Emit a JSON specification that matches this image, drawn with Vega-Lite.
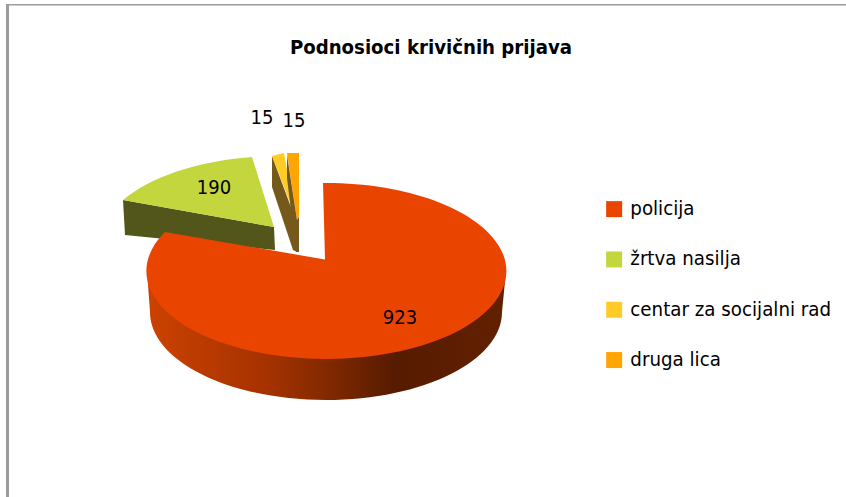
{
"$schema":"https://vega.github.io/schema/vega-lite/v6.json",
"width":846,"height":497,"padding":0,"autosize":"none",
"background":"#ffffff",
"view":{"stroke":null},
"title":{"text":"Podnosioci krivičnih prijava","font":"DejaVu Sans Condensed, Lato","fontSize":20.2,"fontWeight":"bold","color":"#000000","anchor":"middle","frame":"group","dx":8,"dy":58,"offset":0},
"data":{"values":[
{"category":"policija","slice":"a","value":923},
{"category":"žrtva nasilja","slice":"b","value":190},
{"category":"centar za socijalni rad","slice":"c","value":15},
{"category":"druga lica","slice":"d","value":15}
]},
"layer":[
{"transform":[{"filter":"datum.category==='policija'"}],
 "mark":{"type":"point","filled":true,"opacity":1,"size":4,"fill":"#9c9c9c","strokeWidth":0,"shape":"M-417,-244.5 L423,-244.5 L423,-243 L-414,-243 L-414,248.5 L-417,248.5 Z"},"encoding":{}},
{"transform":[{"filter":"datum.category==='policija'"}],
 "mark":{"type":"point","filled":true,"opacity":1,"size":4,"strokeWidth":0,"fill":{"gradient":"linear","x1":0,"y1":0,"x2":1,"y2":0,"stops":[{"offset":0,"color":"#cc4200"},{"offset":0.33,"color":"#a63200"},{"offset":0.52,"color":"#7e2800"},{"offset":0.69,"color":"#561b00"},{"offset":1,"color":"#632000"}]},"shape":"M-276,22.5 L-273,63.5 A176,88 0 0 0 79,63.5 L83,22.5 Z"},"encoding":{}},
{"transform":[{"filter":"datum.category==='žrtva nasilja'"}],
 "mark":{"type":"point","filled":true,"opacity":1,"size":4,"strokeWidth":0,"fill":"#52561a","shape":"M-300,-48.5 L-298,-13.5 L-148,1.5 L-149,-21.5 Z"},"encoding":{}},
{"transform":[{"filter":"datum.category==='centar za socijalni rad'"}],
 "mark":{"type":"point","filled":true,"opacity":1,"size":4,"strokeWidth":0,"fill":"#75591a","shape":"M-151,-92.5 L-151,-61.5 L-130,1.5 L-126,3.5 L-128,-30.5 Z"},"encoding":{}},
{"mark":{"type":"point","filled":true,"opacity":1,"size":4,"strokeWidth":0},
 "encoding":{
  "color":{"field":"category","type":"nominal","sort":null,
   "scale":{"domain":["policija","žrtva nasilja","centar za socijalni rad","druga lica"],"range":["#ea4500","#c3d63e","#ffcb27","#ffa500"]},
   "legend":{"title":null,"orient":"none","legendX":604,"legendY":199,"symbolType":"square","symbolSize":256,"symbolStrokeWidth":0,"symbolOffset":0,"labelFont":"DejaVu Sans Condensed, Lato","labelFontSize":20.3,"labelColor":"#000000","labelOffset":6,"rowPadding":29.3,"padding":0,"labelLimit":300}},
  "shape":{"field":"slice","type":"nominal","sort":null,"legend":null,
   "scale":{"domain":["a","b","c","d"],"range":[
    "M-100,-65.5 A180,88 0 1 1 -258,-16.5 L-98,11 Z",
    "M-300,-48.5 A180,88 0 0 1 -171,-91.5 L-149,-21.5 Z",
    "M-151,-92.5 L-139,-95.5 L-127,-30.5 Z",
    "M-136,-95.5 L-124,-95.5 L-124,-31.5 L-126,-28.5 Z"]}}
 }},
{"transform":[{"filter":"datum.category==='druga lica'"}],
 "mark":{"type":"point","filled":true,"opacity":1,"size":4,"strokeWidth":0,"fill":"#75591a","shape":"M-136,-93.5 L-136,-70.5 L-127,3.5 L-124,3.5 L-124,-31.5 L-126,-28.5 Z"},"encoding":{}},
{"transform":[{"filter":"datum.category==='policija'"}],
 "mark":{"type":"text","font":"DejaVu Sans Condensed, Lato","fontSize":20,"color":"#000000","baseline":"middle","align":"center","dx":-23,"dy":69.5},"encoding":{"text":{"field":"value","type":"quantitative"}}},
{"transform":[{"filter":"datum.category==='žrtva nasilja'"}],
 "mark":{"type":"text","font":"DejaVu Sans Condensed, Lato","fontSize":20,"color":"#000000","baseline":"middle","align":"center","dx":-209,"dy":-60.5},"encoding":{"text":{"field":"value","type":"quantitative"}}},
{"transform":[{"filter":"datum.category==='centar za socijalni rad'"}],
 "mark":{"type":"text","font":"DejaVu Sans Condensed, Lato","fontSize":20,"color":"#000000","baseline":"middle","align":"center","dx":-161,"dy":-130.5},"encoding":{"text":{"field":"value","type":"quantitative"}}},
{"transform":[{"filter":"datum.category==='druga lica'"}],
 "mark":{"type":"text","font":"DejaVu Sans Condensed, Lato","fontSize":20,"color":"#000000","baseline":"middle","align":"center","dx":-129,"dy":-127.5},"encoding":{"text":{"field":"value","type":"quantitative"}}}
]
}
